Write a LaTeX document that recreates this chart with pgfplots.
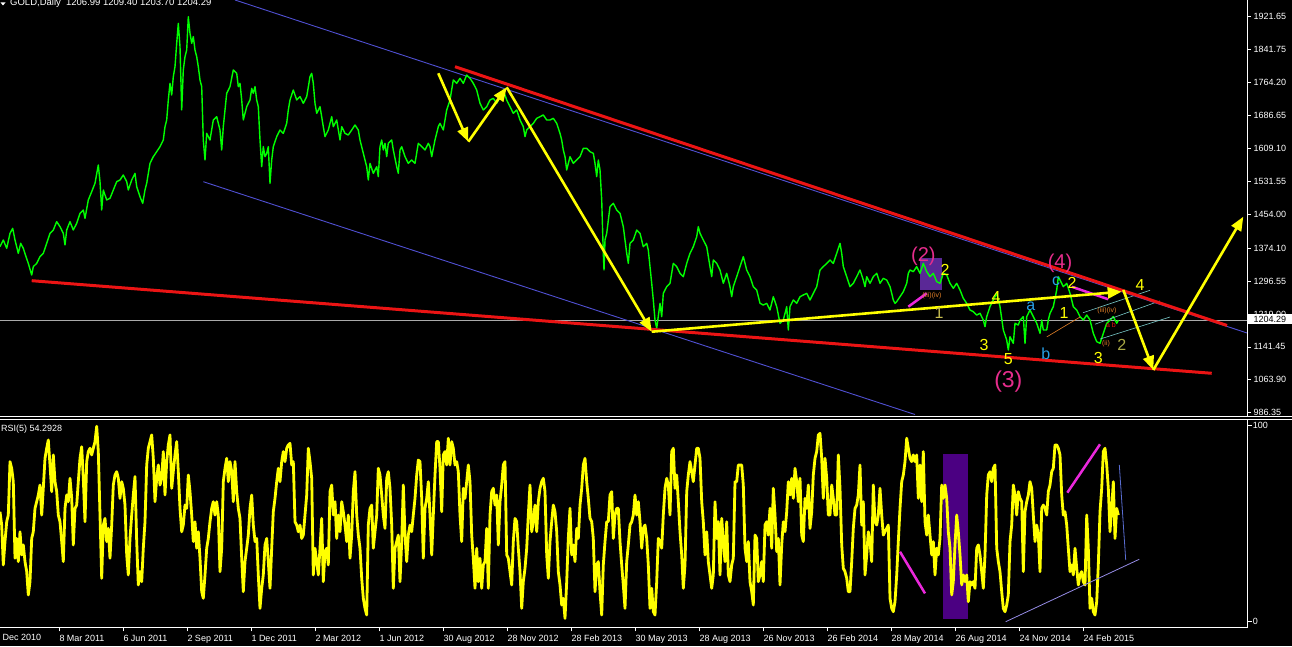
\documentclass[border=0pt]{standalone}
\usepackage{fontspec}
\setmainfont{Liberation Sans}
\usepackage{pgfplots}
\pgfplotsset{compat=1.18}
\usetikzlibrary{arrows.meta}

\definecolor{price}{RGB}{0,255,0}
\definecolor{rsi}{RGB}{255,255,0}
\definecolor{chan}{RGB}{80,80,210}
\definecolor{trend}{RGB}{235,20,20}
\definecolor{wave}{RGB}{230,45,140}
\definecolor{mag}{RGB}{235,40,220}
\definecolor{boxtop}{RGB}{90,40,150}
\definecolor{boxrsi}{RGB}{75,0,130}
\definecolor{lav}{RGB}{150,140,230}
\definecolor{thinblue}{RGB}{90,110,210}
\definecolor{cyanl}{RGB}{120,200,200}
\definecolor{orng}{RGB}{230,130,40}
\definecolor{khaki}{RGB}{200,190,80}
\definecolor{olive}{RGB}{170,170,70}
\definecolor{abc}{RGB}{40,160,230}
\definecolor{hline}{RGB}{170,170,170}

\pgfplotsset{mt/.style={scale only axis, width=1247.7pt,
  xmin=0, xmax=1247.7, axis line style={draw=none},
  tick align=outside, major tick length=3pt,
  tick style={white, line width=0.8pt},
  ticklabel style={font=\fontsize{9}{10}\selectfont, text=white},
  /pgf/number format/assume math mode=true}}

\begin{document}
\begin{tikzpicture}[x=1pt,y=1pt]
\useasboundingbox (0,0) rectangle (1292,646);
\clip (0,0) rectangle (1292,646);
\fill[black] (0,0) rectangle (1292,646);

% ---- price window ----
\begin{axis}[mt, at={(0pt,230pt)}, anchor=south west, height=416pt,
  ymin=978.6, ymax=1959.4,
  xtick=\empty,
  ytick={986.35,1063.90,1141.45,1219.00,1296.55,1374.10,1454.00,1531.55,1609.10,1686.65,1764.20,1841.75,1921.65},
  yticklabels={986.35,1063.90,1141.45,1219.00,1296.55,1374.10,1454.00,1531.55,1609.10,1686.65,1764.20,1841.75,1921.65},
  ytick pos=right, yticklabel pos=right,
  yticklabel style={anchor=west, inner sep=0pt, xshift=2.6pt}]

\addplot[hline, line width=0.8pt] coordinates {(0,1204.29) (1247.7,1204.29)};
\addplot[chan, line width=0.9pt] coordinates {(235,1959.4) (1247,1174.3)};
\addplot[chan, line width=0.9pt] coordinates {(203.3,1531.0) (915,982.1)};
\addplot[fill=boxtop, draw=none] coordinates {(920,1275.7) (941.7,1275.7) (941.7,1350.4) (920,1350.4)} --cycle;

\addplot[price, line width=1.4pt, line join=round] coordinates {
(0,1377.8) (3.3,1393.6) (6.7,1373.9) (10,1409.3) (12.7,1421.1) (15,1393.6) (18.3,1362.1) (20.7,1385.7) (23.3,1373.9) (26,1354.3) (28.3,1338.5) (31.7,1311.0) (33.3,1330.7) (36.7,1338.5) (40,1354.3) (43.3,1362.1) (46.7,1385.7) (50,1409.3) (53.3,1417.1) (56.7,1436.8) (60,1425.0) (63.3,1409.3) (65,1381.8) (66.7,1417.1) (70,1436.8) (73.3,1417.1) (76.7,1432.8) (80,1456.4) (83.3,1464.3) (85,1444.6) (88.3,1487.9) (91.7,1507.5) (95,1527.2) (98.3,1570.4) (100,1531.1) (101.7,1464.3) (103.3,1511.4) (106.7,1487.9) (110,1491.8) (113.3,1511.4) (116.7,1531.1) (120,1535.0) (123.3,1546.8) (126.7,1531.1) (128.3,1511.4) (131.7,1535.0) (135,1550.7) (136.7,1519.3) (140,1495.7) (142.7,1480.0) (145,1511.4) (146.7,1527.2) (150,1574.3) (153.3,1590.0) (156.7,1601.8) (160,1613.6) (163.3,1629.3) (165,1660.8) (166.7,1676.5) (168.3,1723.6) (170,1762.9) (171.7,1735.4) (173.3,1778.6) (175,1802.2) (176.7,1857.2) (178.3,1904.4) (180,1849.4) (181.7,1700.1) (183.3,1794.4) (185,1825.8) (186.7,1841.5) (188.3,1920.0) (190,1880.8) (191.7,1857.2) (193.3,1873.0) (195,1841.5) (196.7,1825.8) (198.3,1802.2) (200,1770.8) (201.7,1755.1) (203.3,1629.3) (205,1582.2) (206.7,1645.0) (210,1629.3) (213.3,1676.5) (216.7,1684.3) (220,1652.9) (221.7,1605.7) (223.3,1660.8) (226.7,1739.3) (230,1755.1) (233.3,1794.4) (236.7,1786.5) (238.3,1755.1) (240,1762.9) (241.7,1723.6) (243.3,1676.5) (246.7,1707.9) (250,1723.6) (251.7,1751.1) (253.3,1739.3) (255,1755.1) (256.7,1723.6) (258.3,1707.9) (260,1629.3) (261.7,1566.4) (263.3,1613.6) (265,1590.0) (266.7,1597.9) (268.3,1613.6) (270,1527.2) (271.7,1582.2) (273.3,1613.6) (276.7,1637.2) (280,1652.9) (283.3,1645.0) (286.7,1668.6) (288.3,1700.1) (290,1723.6) (293.3,1747.2) (296.7,1723.6) (300,1731.5) (303.3,1715.8) (306.7,1731.5) (310,1778.6) (311.7,1786.5) (313.3,1762.9) (315,1715.8) (316.7,1692.2) (320,1707.9) (323.3,1660.8) (325,1637.2) (328.3,1652.9) (331.7,1684.3) (333.3,1660.8) (336.7,1676.5) (340,1629.3) (341.7,1660.8) (345,1645.0) (348.3,1641.1) (351.7,1652.9) (355,1664.7) (358.3,1652.9) (360,1629.3) (363.3,1597.9) (366.7,1566.4) (368.3,1535.0) (370,1574.3) (373.3,1550.7) (376.7,1566.4) (378.3,1542.9) (380,1613.6) (381.7,1629.3) (383.3,1605.7) (385,1621.5) (386.7,1590.0) (388.3,1621.5) (391.7,1629.3) (393.3,1605.7) (396.7,1566.4) (398.3,1550.7) (400,1605.7) (401.7,1613.6) (405,1590.0) (408.3,1574.3) (411.7,1582.2) (415,1574.3) (418.3,1621.5) (421.7,1613.6) (425,1605.7) (428.3,1621.5)
(430,1613.6) (431.7,1590.0) (435,1629.3) (438.3,1660.8) (440,1668.6) (443.3,1652.9) (446.7,1700.1) (450,1723.6) (453.3,1770.8) (456.7,1762.9) (460,1774.7) (463.3,1762.9) (466.7,1782.6) (470,1774.7) (473.3,1762.9) (476.7,1747.2) (480,1715.8) (483.3,1700.1) (486.7,1707.9) (490,1723.6) (493.3,1727.6) (496.7,1715.8) (500,1731.5) (503.3,1747.2) (506.7,1723.6) (510,1707.9) (513.3,1692.2) (516.7,1700.1) (520,1676.5) (523.3,1660.8) (525,1637.2) (526.7,1652.9) (530,1660.8) (533.3,1668.6) (536.7,1680.4) (540,1684.3) (543.3,1688.3) (546.7,1676.5) (550,1676.5) (553.3,1680.4) (556.7,1668.6) (560,1645.0) (561.7,1629.3) (563.3,1605.7) (565,1590.0) (566.7,1558.6) (570,1590.0) (573.3,1574.3) (576.7,1582.2) (580,1590.0) (583.3,1609.7) (586.7,1609.7) (590,1601.8) (593.3,1597.9) (595,1574.3) (596.7,1542.9) (598.3,1582.2) (600,1558.6) (601.7,1487.9) (603.3,1362.1) (604,1322.8) (605,1393.6) (606.7,1409.3) (610,1472.1) (613.3,1480.0) (616.7,1464.3) (620,1456.4) (623.3,1425.0) (626.7,1362.1) (628.3,1338.5) (630,1385.7) (633.3,1393.6) (636.7,1417.1) (640,1409.3) (643.3,1377.8) (646.7,1385.7) (648.3,1370.0) (650,1330.7) (651.7,1291.4) (653.3,1252.1) (655,1204.9) (656.7,1185.3) (660,1244.2) (661.7,1212.8) (663.3,1267.8) (666.7,1283.5) (670,1291.4) (673.3,1338.5) (676.7,1330.7) (680,1315.0) (683.3,1307.1) (686.7,1338.5) (690,1362.1) (693.3,1377.8) (696.7,1401.4) (698.3,1425.0) (700,1409.3) (703.3,1393.6) (706.7,1377.8) (710,1330.7) (711.7,1307.1) (713.3,1346.4) (716.7,1338.5) (720,1322.8) (723.3,1291.4) (726.7,1315.0) (730,1283.5) (731.7,1259.9) (733.3,1283.5) (736.7,1307.1) (740,1330.7) (743.3,1354.3) (745,1338.5) (746.7,1322.8) (750,1307.1) (753.3,1283.5) (756.7,1275.7) (760,1244.2) (763.3,1240.3) (766.7,1244.2) (770,1228.5) (773.3,1259.9) (776.7,1236.4) (780,1197.1) (783.3,1204.9) (786.7,1236.4) (788.3,1181.4) (790,1236.4) (793.3,1252.1) (796.7,1244.2) (800,1259.9) (803.3,1263.9) (806.7,1267.8) (810,1252.1) (813.3,1267.8) (816.7,1283.5) (820,1322.8) (823.3,1330.7) (826.7,1338.5) (830,1346.4) (833.3,1338.5) (836.7,1362.1) (840,1385.7) (841.7,1362.1) (843.3,1330.7) (846.7,1307.1) (850,1283.5) (853.3,1291.4) (856.7,1307.1)
(860,1322.8) (863.3,1299.2) (865,1283.5) (866.7,1307.1) (870,1291.4) (873.3,1307.1) (876.7,1315.0) (880,1291.4) (883.3,1303.2) (886.7,1299.2) (890,1283.5) (891.7,1267.8) (893.3,1252.1) (895,1244.2) (896.7,1248.2) (900,1259.9) (903.3,1271.7) (906.7,1291.4) (908.3,1315.0) (910,1322.8) (913.3,1318.9) (916.7,1330.7) (920,1315.0) (923.3,1338.5) (926.7,1318.9) (930,1307.1) (933.3,1315.0) (936.7,1295.3) (940,1291.4) (943.3,1315.0) (946.7,1311.0) (950,1291.4) (953.3,1279.6) (956.7,1291.4) (960,1275.7) (963.3,1256.0) (966.7,1244.2) (970,1228.5) (973.3,1224.6) (976.7,1216.7) (980,1220.7) (983.3,1204.9) (985,1189.2) (986.7,1212.8) (990,1236.4) (993.3,1252.1) (996.7,1267.8) (1000,1236.4) (1003.3,1181.4) (1006.7,1157.8) (1008.3,1134.2) (1010,1165.6) (1013.3,1149.9) (1015,1197.1) (1018.3,1193.1) (1020,1204.9) (1023.3,1212.8) (1025,1149.9) (1026.7,1212.8) (1030,1228.5) (1033.3,1212.8) (1036.7,1197.1) (1040,1173.5) (1041.7,1204.9) (1043.3,1181.4) (1046.7,1181.4) (1048.3,1204.9) (1050,1220.7) (1053.3,1236.4) (1056.7,1275.7) (1058.3,1307.1) (1060,1299.2) (1063.3,1283.5) (1066.7,1291.4) (1070,1267.8) (1073.3,1236.4) (1076.7,1228.5) (1080,1212.8) (1083.3,1204.9) (1086.7,1216.7) (1090,1204.9) (1093.3,1173.5) (1096.7,1153.9) (1100,1149.9) (1103.3,1173.5) (1106.7,1197.1) (1110,1204.9) (1113.3,1212.8) (1116.7,1197.1) (1118.3,1204.29)};

% small wave channels
\addplot[cyanl, line width=0.6pt] coordinates {(1083,1222) (1150,1275)};
\addplot[cyanl, line width=0.6pt] coordinates {(1095,1195) (1160,1250)};
\addplot[cyanl, line width=0.6pt] coordinates {(1100,1160) (1170,1212)};
\addplot[orng, line width=0.6pt] coordinates {(1046.7,1165) (1080,1212)};
\addplot[mag, line width=2.5pt] coordinates {(908.3,1236.3) (926.7,1267.9)};
\addplot[mag, line width=2.5pt] coordinates {(1071.7,1283.4) (1108.3,1253.8)};

% trend lines
\addplot[trend, line width=3pt] coordinates {(455,1802.1) (1227,1192.0)};
\addplot[trend, line width=3pt] coordinates {(31.7,1297.6) (1211.7,1079.3)};

% projection arrows
\tikzset{yarr/.style={rsi, line width=2.6pt, -{Triangle[length=14pt,width=11pt]}}}
\addplot[yarr] coordinates {(438.3,1786.6) (468.3,1625.3)};
\addplot[yarr] coordinates {(468.3,1625.3) (506.7,1753.6)};
\addplot[yarr] coordinates {(506.7,1753.6) (651.7,1177.3)};
\addplot[yarr] coordinates {(651.7,1177.3) (1121.7,1271.7)};
\addplot[yarr] coordinates {(1123.3,1275.7) (1153.3,1087.1)};
\addplot[yarr] coordinates {(1153.3,1087.1) (1243.3,1448.5)};

% wave labels
\tikzset{big/.style={font=\fontsize{20}{20}\selectfont, text=wave, inner sep=0pt},
         lab/.style={font=\fontsize{16}{16}\selectfont, inner sep=0pt},
         sm/.style={font=\fontsize{7}{7}\selectfont, text=orng, inner sep=0pt}}
\node[big] at (axis cs:923.3,1356) {(2)};
\node[big] at (axis cs:1060,1338) {(4)};
\node[big, font=\fontsize{23}{23}\selectfont] at (axis cs:1008.3,1060) {(3)};
\node[lab, text=rsi] at (axis cs:945,1322.8) {2};
\node[lab, text=khaki] at (axis cs:939,1220.7) {1};
\node[lab, text=rsi] at (axis cs:996,1259.9) {4};
\node[lab, text=rsi] at (axis cs:984,1146.0) {3};
\node[lab, text=rsi] at (axis cs:1008.3,1112) {5};
\node[lab, text=rsi] at (axis cs:1064,1220.7) {1};
\node[lab, text=rsi] at (axis cs:1072,1293) {2};
\node[lab, text=rsi] at (axis cs:1098.3,1114.6) {3};
\node[lab, text=rsi] at (axis cs:1140,1287.4) {4};
\node[lab, text=olive] at (axis cs:1121.7,1146.0) {2};
\node[lab, text=abc] at (axis cs:1030.7,1236.3) {a};
\node[lab, text=abc] at (axis cs:1045.7,1126.4) {b};
\node[lab, text=abc] at (axis cs:1056,1297) {c};
\node[sm] at (axis cs:932,1262) {(iii)(iv)};
\node[sm] at (axis cs:1107,1226) {(iii)(iv)};
\node[sm, text=trend] at (axis cs:1111,1192) {a b};
\node[sm] at (axis cs:1106,1150) {(ii)};
\end{axis}

% ---- RSI window ----
\begin{axis}[mt, at={(0pt,18.7pt)}, anchor=south west, height=208.3pt,
  ymin=-2.85, ymax=103.2,
  ytick={0,100}, yticklabels={0,100},
  ytick pos=right, yticklabel pos=right,
  yticklabel style={anchor=west, inner sep=0pt, xshift=1pt},
  xtick={59.3,123.3,187.3,251.3,315.3,379.3,443.3,507.3,571.3,635.3,699.3,763.3,827.3,891.3,955.3,1019.3,1083.3},
  xticklabels={8 Mar 2011,6 Jun 2011,2 Sep 2011,1 Dec 2011,2 Mar 2012,1 Jun 2012,30 Aug 2012,28 Nov 2012,28 Feb 2013,30 May 2013,28 Aug 2013,26 Nov 2013,26 Feb 2014,28 May 2014,26 Aug 2014,24 Nov 2014,24 Feb 2015},
  xtick pos=left, xticklabel pos=left,
  major tick length=4pt,
  xticklabel style={anchor=base west, inner sep=0pt, yshift=-10.2pt}]

\addplot[fill=boxrsi, draw=none] coordinates {(943,1.4) (968,1.4) (968,85.4) (943,85.4)} --cycle;

\addplot[rsi, line width=2.8pt, line join=round] coordinates {
(0,56) (1.7,49.2) (3.3,28.9) (5,40.8) (6.7,50.9) (8.3,54.3) (10,81.5) (11.7,78.1) (13.3,71.3) (15,32.3) (16.7,42.4) (18.3,30.6) (20,45.8) (21.7,34) (23.3,39.1) (25,30.6) (26.7,25.5) (28.3,13.6) (30,20.4) (31.7,42.4) (33.3,45.8) (35,57.7) (36.7,61.1) (38.3,64.5) (40,69.6) (41.7,54.3) (43.3,67.9) (45,83.2) (46.7,88.3) (48.3,92.5) (50,79.8) (51.7,66.2) (53.3,84.9) (55,71.3) (56.7,66.2) (58.3,54.3) (60,50.9) (61.7,40.8) (63.3,30.6) (65,57.7) (66.7,64.5) (68.3,61.1) (70,73) (71.7,62.8) (73.3,39.1) (75,57.7) (76.7,59.4) (78.3,71.3) (80,83.2) (81.7,89.1) (83.3,73) (85,50.9) (86.7,81.5) (88.3,86.6) (90,88.3) (91.7,84.9) (93.3,88.3) (95,91.7) (96.7,99.5) (98.3,86.6) (100,54.3) (101.7,22.1) (103.3,49.2) (105,52.6) (106.7,40.8) (108.3,47.5) (110,32.3) (111.7,49.2) (113.3,69.6) (115,74.7) (116.7,76.4) (118.3,73) (120,62.8) (121.7,71.3) (123.3,67.9) (125,59.4) (126.7,34) (128.3,23.8) (130,42.4) (131.7,54.3) (133.3,64.5) (135,73.9) (136.7,40.8) (138.3,18.7) (140,25.5) (141.7,20.4) (143.3,37.4) (145,50.9) (146.7,79.8) (148.3,88.3) (150,91.7) (151.7,95.1) (153.3,83.2) (155,61.1) (156.7,73) (158.3,79.8) (160,69.6) (161.7,73) (163.3,86.6) (165,64.5) (166.7,81.5) (168.3,90) (170,95.1) (171.7,67.9) (173.3,76.4) (175,84.9) (176.7,91.7) (178.3,76.4) (180,57.7) (181.7,45.8) (183.3,49.2) (185,59.4) (186.7,57.7) (188.3,74.7) (190,66.2) (191.7,54.3) (193.3,40.8) (195,50.9) (196.7,37.4) (198.3,45.8) (200,32.3) (201.7,15.3) (203.3,11.9) (205,23.8) (206.7,37.4) (208.3,42.4) (210,50.9) (211.7,57.7) (213.3,61.1) (215,54.3) (216.7,61.1) (218.3,54.3) (220,25.5) (221.7,37.4) (223.3,71.3) (225,78.1) (226.7,83.2) (228.3,71.3) (230,81.5) (231.7,76.4) (233.3,61.1) (235,81.5) (236.7,66.2) (238.3,57.7) (240,52.6) (241.7,32.3) (243.3,15.3) (245,30.6) (246.7,37.4) (248.3,44.1) (250,57.7) (251.7,64.5) (253.3,49.2) (255,40.8) (256.7,42.4) (258.3,23.8) (260,6.8) (261.7,17) (263.3,23.8) (265,39.1) (266.7,42.4) (268.3,30.6) (270,17) (271.7,37.4) (273.3,56) (275,62.8) (276.7,71.3) (278.3,78.1) (280,71.3) (281.7,81.5) (283.3,86.6) (285,81.5) (286.7,88.3) (288.3,90) (290,90.8) (291.7,79.8) (293.3,81.5) (295,50.9) (296.7,49.2) (298.3,45.8) (300,49.2) (301.7,42.4) (303.3,44.1) (305,54.3) (306.7,64.5) (308.3,88.3) (310,81.5) (311.7,73) (313.3,23.8) (315,37.4) (316.7,30.6) (318.3,23.8) (320,37.4) (321.7,52.6) (323.3,20.4) (325,35.7) (326.7,37.4) (328.3,28.9) (330,66.2) (331.7,69.6) (333.3,54.3) (335,61.1) (336.7,42.4) (338.3,54.3) (340,45.8) (341.7,61.1) (343.3,56) (345,49.2) (346.7,40.8) (348.3,54.3) (350,32.3) (351.7,44.1) (353.3,66.2) (355,76.4) (356.7,54.3) (358.3,44.1) (360,37.4) (361.7,22.1) (363.3,11.9) (365,6.8) (366.7,3.4) (368.3,49.2) (370,57.7) (371.7,59.4) (373.3,37.4) (375,45.8) (376.7,54.3) (378.3,78.1) (380,74.7) (381.7,64.5) (383.3,54.3) (385,47.5) (386.7,73) (388.3,76.4) (390,67.9) (391.7,49.2) (393.3,17) (395,37.4) (396.7,40.8) (398.3,44.1) (400,20.4) (401.7,40.8) (403.3,69.6) (405,44.1) (406.7,30.6) (408.3,44.1) (410,49.2) (411.7,45.8) (413.3,54.3) (415,62.8) (416.7,74.7) (418.3,82.3) (420,81.5) (421.7,62.8) (423.3,32.3) (425,57.7) (426.7,62.8) (428.3,71.3)
(430,54.3) (431.7,34) (433.3,54.3) (435,74.7) (436.7,91.7) (438.3,91.7) (440,78.1) (441.7,56) (443.3,84.9) (445,86.6) (446.7,79.8) (448.3,93.4) (450,79.8) (451.7,91.7) (453.3,88.3) (455,79.8) (456.7,81.5) (458.3,76.4) (460,54.3) (461.7,40.8) (463.3,67.9) (465,62.8) (466.7,71.3) (468.3,79.8) (470,71.3) (471.7,44.1) (473.3,32.3) (475,17) (476.7,37.4) (478.3,20.4) (480,32.3) (481.7,17) (483.3,28.9) (485,30.6) (486.7,47.5) (488.3,17) (490,54.3) (491.7,66.2) (493.3,67.9) (495,59.4) (496.7,64.5) (498.3,39.1) (500,61.1) (501.7,69.6) (503.3,79.8) (505,81.5) (506.7,34) (508.3,32.3) (510,25.5) (511.7,18.7) (513.3,40.8) (515,52.6) (516.7,50.9) (518.3,37.4) (520,25.5) (521.7,6.8) (523.3,20.4) (525,27.2) (526.7,37.4) (528.3,54.3) (530,69.6) (531.7,45.8) (533.3,50.9) (535,59.4) (536.7,45.8) (538.3,61.1) (540,67.9) (541.7,71.3) (543.3,73) (545,66.2) (546.7,34) (548.3,22.1) (550,40.8) (551.7,50.9) (553.3,59.4) (555,56) (556.7,45.8) (558.3,25.5) (560,18.7) (561.7,8.5) (563.3,11.9) (565,1.7) (566.7,20.4) (568.3,42.4) (570,57.7) (571.7,34) (573.3,39.1) (575,30.6) (576.7,47.5) (578.3,42.4) (580,59.4) (581.7,67.9) (583.3,79.8) (585,83.2) (586.7,71.3) (588.3,62.8) (590,52.6) (591.7,50.9) (593.3,42.4) (595,15.3) (596.7,28.9) (598.3,30.6) (600,15.3) (601.7,3.4) (603.3,28.9) (605,40.8) (606.7,50.9) (608.3,50.9) (610,64.5) (611.7,66.2) (613.3,42.4) (615,54.3) (616.7,57.7) (618.3,57.7) (620,40.8) (621.7,28.9) (623.3,18.7) (625,6.8) (626.7,30.6) (628.3,39.1) (630,49.2) (631.7,50.9) (633.3,54.3) (635,64.5) (636.7,54.3) (638.3,61.1) (640,50.9) (641.7,37.4) (643.3,47.5) (645,49.2) (646.7,42.4) (648.3,28.9) (650,6.8) (651.7,17) (653.3,5.1) (655,3.4) (656.7,20.4) (658.3,42.4) (660,40.8) (661.7,37.4) (663.3,54.3) (665,67.9) (666.7,73) (668.3,69.6) (670,54.3) (671.7,86.6) (673.3,88.3) (675,67.9) (676.7,74.7) (678.3,61.1) (680,45.8) (681.7,34) (683.3,17) (685,28.9) (686.7,66.2) (688.3,74.7) (690,81.5) (691.7,76.4) (693.3,71.3) (695,79.8) (696.7,88.3) (698.3,88.3) (700,83.2) (701.7,61.1) (703.3,50.9) (705,34) (706.7,45.8) (708.3,30.6) (710,23.8) (711.7,17) (713.3,23.8) (715,61.1) (716.7,42.4) (718.3,50.9) (720,23.8) (721.7,52.6) (723.3,40.8) (725,30.6) (726.7,50.9) (728.3,23.8) (730,20.4) (731.7,28.9) (733.3,32.3) (735,71.3) (736.7,71.3) (738.3,79.8) (740,79.8) (741.7,79.8) (743.3,69.6) (745,37.4) (746.7,30.6) (748.3,40.8) (750,20.4) (751.7,15.3) (753.3,8.5) (755,44.1) (756.7,42.4) (758.3,20.4) (760,23.8) (761.7,30.6) (763.3,20.4) (765,49.2) (766.7,50.9) (768.3,44.1) (770,57.7) (771.7,37.4) (773.3,67.9) (775,54.3) (776.7,35.7) (778.3,42.4) (780,18.7) (781.7,39.1) (783.3,50.9) (785,45.8) (786.7,56) (788.3,71.3) (790,64.5) (791.7,73) (793.3,62.8) (795,78.1) (796.7,71.3) (798.3,61.1) (800,73) (801.7,44.1) (803.3,40.8) (805,62.8) (806.7,57.7) (808.3,69.6) (810,47.5) (811.7,56) (813.3,74.7) (815,83.2) (816.7,86.6) (818.3,95.1) (820,95.9) (821.7,83.2) (823.3,62.8) (825,83.2) (826.7,73) (828.3,54.3) (830,54.3) (831.7,69.6) (833.3,62.8) (835,54.3) (836.7,54.3) (838.3,84.9) (840,67.9) (841.7,39.1) (843.3,27.2) (845,25.5) (846.7,22.1) (848.3,15.3) (850,15.3) (851.7,30.6) (853.3,47.5) (855,57.7) (856.7,59.4) (858.3,64.5)
(860,79.8) (861.7,49.2) (863.3,61.1) (865,23.8) (866.7,34) (868.3,45.8) (870,40.8) (871.7,30.6) (873.3,69.6) (875,50.9) (876.7,49.2) (878.3,54.3) (880,67.9) (881.7,54.3) (883.3,44.1) (885,45.8) (886.7,47.5) (888.3,49.2) (890,11.9) (891.7,6.8) (893.3,5.1) (895,10.2) (896.7,23.8) (898.3,40.8) (900,57.7) (901.7,71.3) (903.3,74.7) (905,81.5) (906.7,93.4) (908.3,88.3) (910,83.2) (911.7,81.5) (913.3,84.9) (915,81.5) (916.7,84.9) (918.3,62.8) (920,79.8) (921.7,61.1) (923.3,86.6) (925,50.9) (926.7,44.1) (928.3,54.3) (930,44.1) (931.7,34) (933.3,40.8) (935,23.8) (936.7,37.4) (938.3,34) (940,42.4) (941.7,69.6) (943.3,62.8) (945,69.6) (946.7,62.8) (948.3,45.8) (950,37.4) (951.7,13.6) (953.3,20.4) (955,39.1) (956.7,54.3) (958.3,45.8) (960,34) (961.7,18.7) (963.3,23.8) (965,20.4) (966.7,23.8) (968.3,10.2) (970,20.4) (971.7,18.7) (973.3,20.4) (975,17) (976.7,37.4) (978.3,39.1) (980,34) (981.7,25.5) (983.3,17) (985,34) (986.7,64.5) (988.3,74.7) (990,76.4) (991.7,71.3) (993.3,78.1) (995,79.8) (996.7,37.4) (998.3,30.6) (1000,25.5) (1001.7,15.3) (1003.3,6.8) (1005,5.1) (1006.7,8.5) (1008.3,13.6) (1010,40.8) (1011.7,49.2) (1013.3,69.6) (1015,64.5) (1016.7,54.3) (1018.3,66.2) (1020,62.8) (1021.7,61.1) (1023.3,25.5) (1025,56) (1026.7,61.1) (1028.3,64.5) (1030,71.3) (1031.7,67.9) (1033.3,54.3) (1035,40.8) (1036.7,49.2) (1038.3,44.1) (1040,25.5) (1041.7,57.7) (1043.3,59.4) (1045,57.7) (1046.7,54.3) (1048.3,66.2) (1050,69.6) (1051.7,76.4) (1053.3,78.1) (1055,90) (1056.7,90) (1058.3,88.3) (1060,84.9) (1061.7,64.5) (1063.3,54.3) (1065,56) (1066.7,49.2) (1068.3,37.4) (1070,25.5) (1071.7,28.9) (1073.3,23.8) (1075,37.4) (1076.7,27.2) (1078.3,18.7) (1080,23.8) (1081.7,25.5) (1083.3,20.4) (1085,18.7) (1086.7,54.3) (1088.3,37.4) (1090,6.8) (1091.7,11.9) (1093.3,5.1) (1095,3.4) (1096.7,10.2) (1098.3,28.9) (1100,56) (1101.7,67.9) (1103.3,86.6) (1105,88.3) (1106.7,79.8) (1108.3,67.9) (1110,45.8) (1111.7,57.7) (1113.3,71.3) (1115,42.4) (1116.7,57.7) (1118.3,54.29)};

\addplot[mag, line width=2.5pt] coordinates {(900,35.6) (925,14.4)};
\addplot[mag, line width=2.5pt] coordinates {(1067.3,65.7) (1100,90.3)};
\addplot[lav, line width=0.8pt] coordinates {(1005.7,0) (1139.3,31.8)};
\addplot[thinblue, line width=0.8pt] coordinates {(1119.3,79.8) (1125.7,31.4)};
\end{axis}

% window frames
\draw[white, line width=0.9pt] (0,230) -- (1292,230);
\draw[white, line width=0.9pt] (0,227) -- (1292,227);
\draw[white, line width=0.9pt] (1247.7,646) -- (1247.7,230);
\draw[white, line width=0.9pt] (1247.7,227) -- (1247.7,18.7) -- (0,18.7);

% titles and current-price box
\fill[white] (0.5,643.5) -- (5.5,643.5) -- (3,640.5) -- cycle;
\node[anchor=base west, inner sep=0pt, text=white, font=\fontsize{9.5}{10}\selectfont] at (10,640.7) {GOLD,Daily\ \ 1206.99 1209.40 1203.70 1204.29};
\node[anchor=base west, inner sep=0pt, text=white, font=\fontsize{9}{10}\selectfont] at (1,215) {RSI(5) 54.2928};
\node[anchor=base west, inner sep=0pt, text=white, font=\fontsize{9}{10}\selectfont] at (2.5,5.5) {Dec 2010};
\fill[white] (1248.2,321.7) rectangle (1292,331.7);
\node[anchor=west, inner sep=0pt, text=black, font=\fontsize{9}{10}\selectfont] at (1253.3,326.7) {1204.29};
\end{tikzpicture}
\end{document}
